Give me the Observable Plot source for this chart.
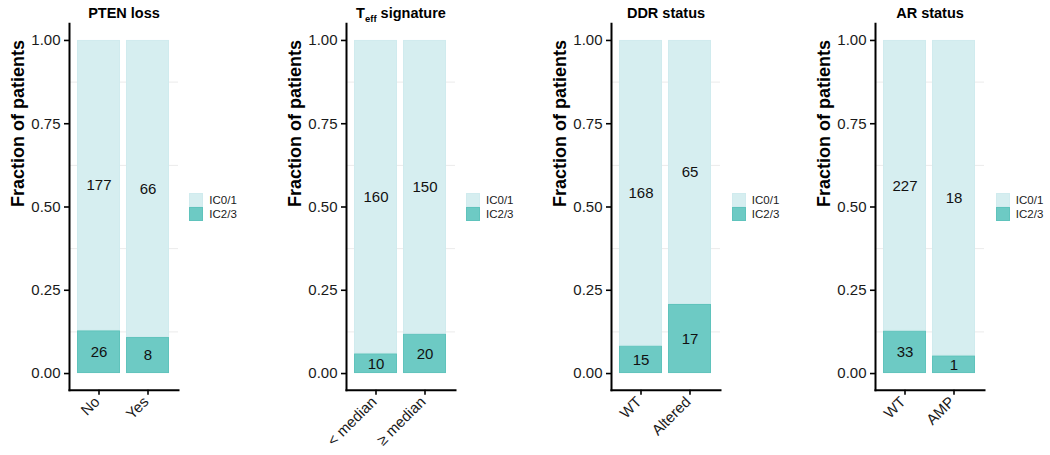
<!DOCTYPE html>
<html><head><meta charset="utf-8">
<script src="https://cdn.jsdelivr.net/npm/d3@7"></script>
<script src="https://cdn.jsdelivr.net/npm/@observablehq/plot@0.6"></script>
<style>
body{margin:0;background:#fff;}
#chart{position:relative;width:1050px;height:455px;font-family:"Liberation Sans",Arial,Helvetica,sans-serif;}
.panel{position:absolute;top:0;}
.legend{position:absolute;font-size:11.5px;color:#1a1a1a;line-height:14px;}
.legend .row{display:flex;align-items:center;height:14px;}
.legend .key{width:14px;height:14px;margin-right:6px;box-sizing:border-box;}
</style></head><body><div id="chart"></div>
<script>
const titleMain = ["PTEN loss", "T", "DDR status", "AR status"];
const titleSub = ["", "eff", "", ""];
const titleRest = ["", " signature", "", ""];
const categories = [["No", "Yes"], ["< median", "≥ median"], ["WT", "Altered"], ["WT", "AMP"]];
const ic01 = [[177, 66], [160, 150], [168, 65], [227, 18]];
const ic23 = [[26, 8], [10, 20], [15, 17], [33, 1]];
const groups = ["IC0/1", "IC2/3"];
const yTicks = [0, 0.25, 0.5, 0.75, 1];
const yMinor = [0.125, 0.375, 0.625, 0.875];
const yLabel = "Fraction of patients";

const fills = {"IC0/1": "#d6eef0", "IC2/3": "#6dcac4"};
const strokes = {"IC0/1": "#d0ebee", "IC2/3": "#5fc3bc"};
const plotLeft = [68.8, 345.5, 611.3, 875.3];
const plotW = 109;
const mL = 69, mR = 1, H = 455, mT = 23.3, mB = 65.3;
const FONT = '"Liberation Sans", Arial, Helvetica, sans-serif';

const chart = document.getElementById("chart");

categories.forEach((cats, i) => {
  const rows = [];
  cats.forEach((c, j) => {
    const total = ic01[i][j] + ic23[i][j];
    const f = ic23[i][j] / total;
    rows.push({cat: c, group: "IC2/3", n: ic23[i][j], y1: 0, y2: f, mid: f / 2});
    rows.push({cat: c, group: "IC0/1", n: ic01[i][j], y1: f, y2: 1, mid: (f + 1) / 2});
  });
  const title = titleMain[i] + titleSub[i] + titleRest[i];
  const svg = Plot.plot({
    width: mL + plotW + mR, height: H,
    marginLeft: mL, marginRight: mR, marginTop: mT, marginBottom: mB,
    style: {fontFamily: FONT, background: "transparent", overflow: "visible", color: "#000"},
    x: {domain: cats, paddingInner: 0.12, paddingOuter: 0.161, axis: null},
    y: {domain: [-0.05, 1.05], axis: null},
    marks: [
      Plot.ruleY(yMinor, {stroke: "#ebebeb", strokeWidth: 1}),
      ...groups.map(g => Plot.barY(rows.filter(d => d.group === g), {
        x: "cat", y1: "y1", y2: "y2", fill: fills[g], stroke: strokes[g], strokeWidth: 1, inset: 0.5
      })),
      Plot.text(rows, {x: "cat", y: "mid", text: d => String(d.n), fontSize: 15, fill: "#111"}),
      Plot.axisY({ticks: yTicks, tickFormat: d3.format(".2f"), tickSize: 5, tickPadding: 4,
        fontSize: 15, label: null, color: "#1a1a1a", stroke: "#000", strokeWidth: 1.6}),
      Plot.axisX({tickSize: 5, tickFormat: () => "", label: null, stroke: "#000", strokeWidth: 1.6}),
      Plot.text(cats, {x: d => d, frameAnchor: "bottom", text: d => d, rotate: -45,
        textAnchor: "end", lineAnchor: "top", dx: -6, dy: 5, fontSize: 15, fill: "#1a1a1a"}),
      Plot.frame({anchor: "left", stroke: "#000", strokeWidth: 2}),
      Plot.frame({anchor: "bottom", stroke: "#000", strokeWidth: 2}),
      Plot.text([yLabel], {frameAnchor: "left", text: d => d, rotate: -90, dx: -46,
        lineAnchor: "bottom", fontSize: 18, fontWeight: "bold", fill: "#000"}),
      Plot.text([title], {frameAnchor: "top", text: d => d, dy: -6, lineAnchor: "bottom",
        fontSize: 14.5, fontWeight: "bold", fill: "#000", className: "ptitle"})
    ]
  });
  svg.classList.add("panel");
  svg.style.left = (plotLeft[i] - mL) + "px";
  chart.appendChild(svg);
  if (titleSub[i]) {
    d3.select(svg).selectAll(".ptitle text").each(function() {
      const t = d3.select(this);
      t.text(null);
      t.append("tspan").text(titleMain[i]);
      t.append("tspan").attr("font-size", 9.5).attr("dy", 4).text(titleSub[i]);
      t.append("tspan").attr("dy", -4).text(titleRest[i]);
    });
  }
  const leg = document.createElement("div");
  leg.className = "legend";
  leg.style.left = (plotLeft[i] + plotW + 11.5) + "px";
  leg.style.top = "193px";
  groups.forEach(g => {
    const r = document.createElement("div");
    r.className = "row";
    const k = document.createElement("div");
    k.className = "key";
    k.style.background = fills[g];
    k.style.border = "1px solid " + strokes[g];
    const l = document.createElement("span");
    l.textContent = g;
    r.appendChild(k); r.appendChild(l);
    leg.appendChild(r);
  });
  chart.appendChild(leg);
});
</script></body></html>
